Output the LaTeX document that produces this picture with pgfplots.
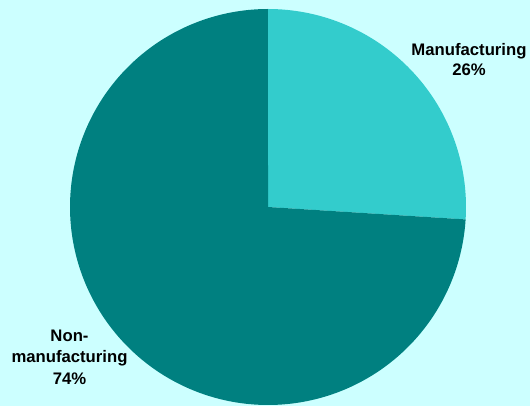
\documentclass[border=0pt]{standalone}
\usepackage{pgfplots}
\usepackage{pgfplotstable}
\pgfplotsset{compat=1.18}
\usepackage{fontspec}
\setmainfont{Liberation Sans}
\definecolor{bgc}{HTML}{CCFFFF}
\definecolor{manu}{HTML}{33CCCC}
\definecolor{nonmanu}{HTML}{008080}
\pgfplotstableread{
sector value
Manufacturing 26
Non-manufacturing 74
}\piedata
\begin{document}
\begin{tikzpicture}
\pgfplotstablegetelem{0}{value}\of\piedata
\pgfmathsetmacro{\va}{\pgfplotsretval}
\pgfplotstablegetelem{1}{value}\of\piedata
\pgfmathsetmacro{\vb}{\pgfplotsretval}
\pgfmathsetmacro{\tot}{\va+\vb}
\pgfmathsetmacro{\aend}{90-360*(\va/\tot)}
\pgfmathsetmacro{\bend}{\aend-360*(\vb/\tot)}
\useasboundingbox (0,0) rectangle (530pt,406pt);
\clip (0,0) rectangle (530pt,406pt);
\fill[bgc] (0,0) rectangle (530pt,406pt);
\begin{axis}[
  at={(0pt,0pt)}, anchor=south west,
  x=198pt, y=198pt,
  xmin=-1.35354, xmax=1.32323,
  ymin=-1.00505, ymax=1.04545,
  hide axis, clip=false,
]
\addplot[fill=manu, draw=none, domain=\aend:90, samples=120, variable=\t]
  ({cos(t)},{sin(t)}) -- (0,0) -- cycle;
\addplot[fill=nonmanu, draw=none, domain=\bend:\aend, samples=300, variable=\t]
  ({cos(t)},{sin(t)}) -- (0,0) -- cycle;
\node[anchor=base, align=center, font=\fontsize{16.7}{20}\selectfont\bfseries]
  at (1.015,0.6616) {Manufacturing\\26\%};
\node[anchor=base, align=center, font=\fontsize{16.7}{21.2}\selectfont\bfseries]
  at (-1.0025,-0.894) {Non-\\manufacturing\\74\%};
\end{axis}
\end{tikzpicture}
\end{document}
